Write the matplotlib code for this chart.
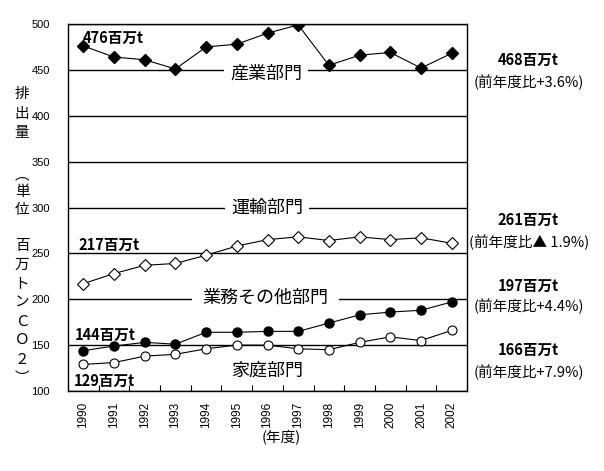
import matplotlib
matplotlib.use("Agg")
import numpy as np
from matplotlib import pyplot as plt

plt.rcParams["font.family"] = ["Noto Sans CJK JP", "DejaVu Sans"]

# data (million t CO2)
years = [str(y) for y in range(1990, 2003)]
industry = [476, 464, 461, 451, 475, 478, 490, 499, 455, 466, 469, 452, 468]
transport = [217, 228, 237, 239, 248, 258, 265, 268, 264, 268, 265, 267, 261]
commercial = [144, 149, 153, 151, 164, 164, 165, 165, 174, 183, 186, 188, 197]
household = [129, 131, 138, 140, 146, 150, 150, 146, 145, 153, 159, 155, 166]

sector_names = ["産業部門", "運輸部門", "業務その他部門", "家庭部門"]
start_labels = ["476百万t", "217百万t", "144百万t", "129百万t"]
end_labels = ["468百万t", "261百万t", "197百万t", "166百万t"]
end_changes = ["(前年度比+3.6%)", "(前年度比▲ 1.9%)", "(前年度比+4.4%)", "(前年度比+7.9%)"]
ylabel_chars = list("排出量︵単位百万トンＣＯ２︶")

W, H = 604, 471
fig = plt.figure(figsize=(W / 100, H / 100), dpi=100)
ax = fig.add_axes([68 / W, 1 - 391 / H, 399 / W, 367 / H])

x = np.arange(len(years))
ax.plot(x, industry, color="black", lw=0.8, marker="D", ms=6,
        mfc="black", mec="black", zorder=4)
ax.plot(x, transport, color="black", lw=0.8, marker="D", ms=6,
        mfc="white", mec="black", mew=0.8, zorder=4)
ax.plot(x, commercial, color="black", lw=0.8, marker="o", ms=6.5,
        mfc="black", mec="black", zorder=4)
ax.plot(x, household, color="black", lw=0.8, marker="o", ms=6.5,
        mfc="white", mec="black", mew=0.8, zorder=4)

ax.set_xlim(-0.5, len(years) - 0.5)
ax.set_ylim(100, 500)
ax.set_yticks(np.arange(100, 501, 50))
ax.yaxis.grid(True, color="black", lw=1)
ax.set_axisbelow(True)
ax.tick_params(axis="y", length=0, pad=13, labelsize=8)
for lab in ax.get_yticklabels():
    lab.set_family("Liberation Sans")

ax.set_xticks(x)
ax.set_xticklabels(years, rotation=90, fontsize=8.5, family="Liberation Sans")
ax.set_xticks(np.arange(-0.5, len(years)), minor=True)
ax.tick_params(axis="x", which="major", length=0, pad=8)
ax.tick_params(axis="x", which="minor", direction="in", length=4, width=0.8)
for s in ax.spines.values():
    s.set_color("black")
    s.set_linewidth(1)

# sector names sitting on the grid lines
box = dict(boxstyle="square,pad=0.35", fc="white", ec="none")
ax.text(5.95, 446, sector_names[0], fontsize=13, ha="center", va="center", bbox=box, zorder=3)
ax.text(5.98, 299.5, sector_names[1], fontsize=13, ha="center", va="center", bbox=box, zorder=3)
ax.text(5.93, 202, sector_names[2], fontsize=13, ha="center", va="center",
        bbox=dict(boxstyle="square,pad=0.6", fc="white", ec="none"), zorder=3)
ax.text(6.0, 122, sector_names[3], fontsize=13, ha="center", va="center", zorder=3)

# 1990 values
for lab, (xx, yy) in zip(start_labels, [(-0.02, 485), (-0.17, 259), (-0.27, 161), (-0.3, 111)]):
    ax.text(xx, yy, lab, fontsize=10.5, fontweight="bold", ha="left", va="center", zorder=5)

# 2002 values on the right
for lab, ch, (y1, y2) in zip(end_labels, end_changes,
                             [(60, 82), (220, 242), (286, 306), (350, 372)]):
    fig.text(528 / W, 1 - y1 / H, lab, fontsize=10.5, fontweight="bold", ha="center", va="center")
    fig.text(529 / W, 1 - y2 / H, ch, fontsize=10.5, ha="center", va="center")

# vertical y axis title
ylabel_y = [94, 114, 133, 175, 192, 210, 246, 265, 284, 302, 322, 340, 360, 378]
for ch, yy in zip(ylabel_chars, ylabel_y):
    fig.text(22 / W, 1 - yy / H, ch, fontsize=10.5, ha="center", va="center")

fig.text(281 / W, 1 - 437 / H, "(年度)", fontsize=10.5, ha="center", va="center")

fig.savefig("out.png", dpi=100)
